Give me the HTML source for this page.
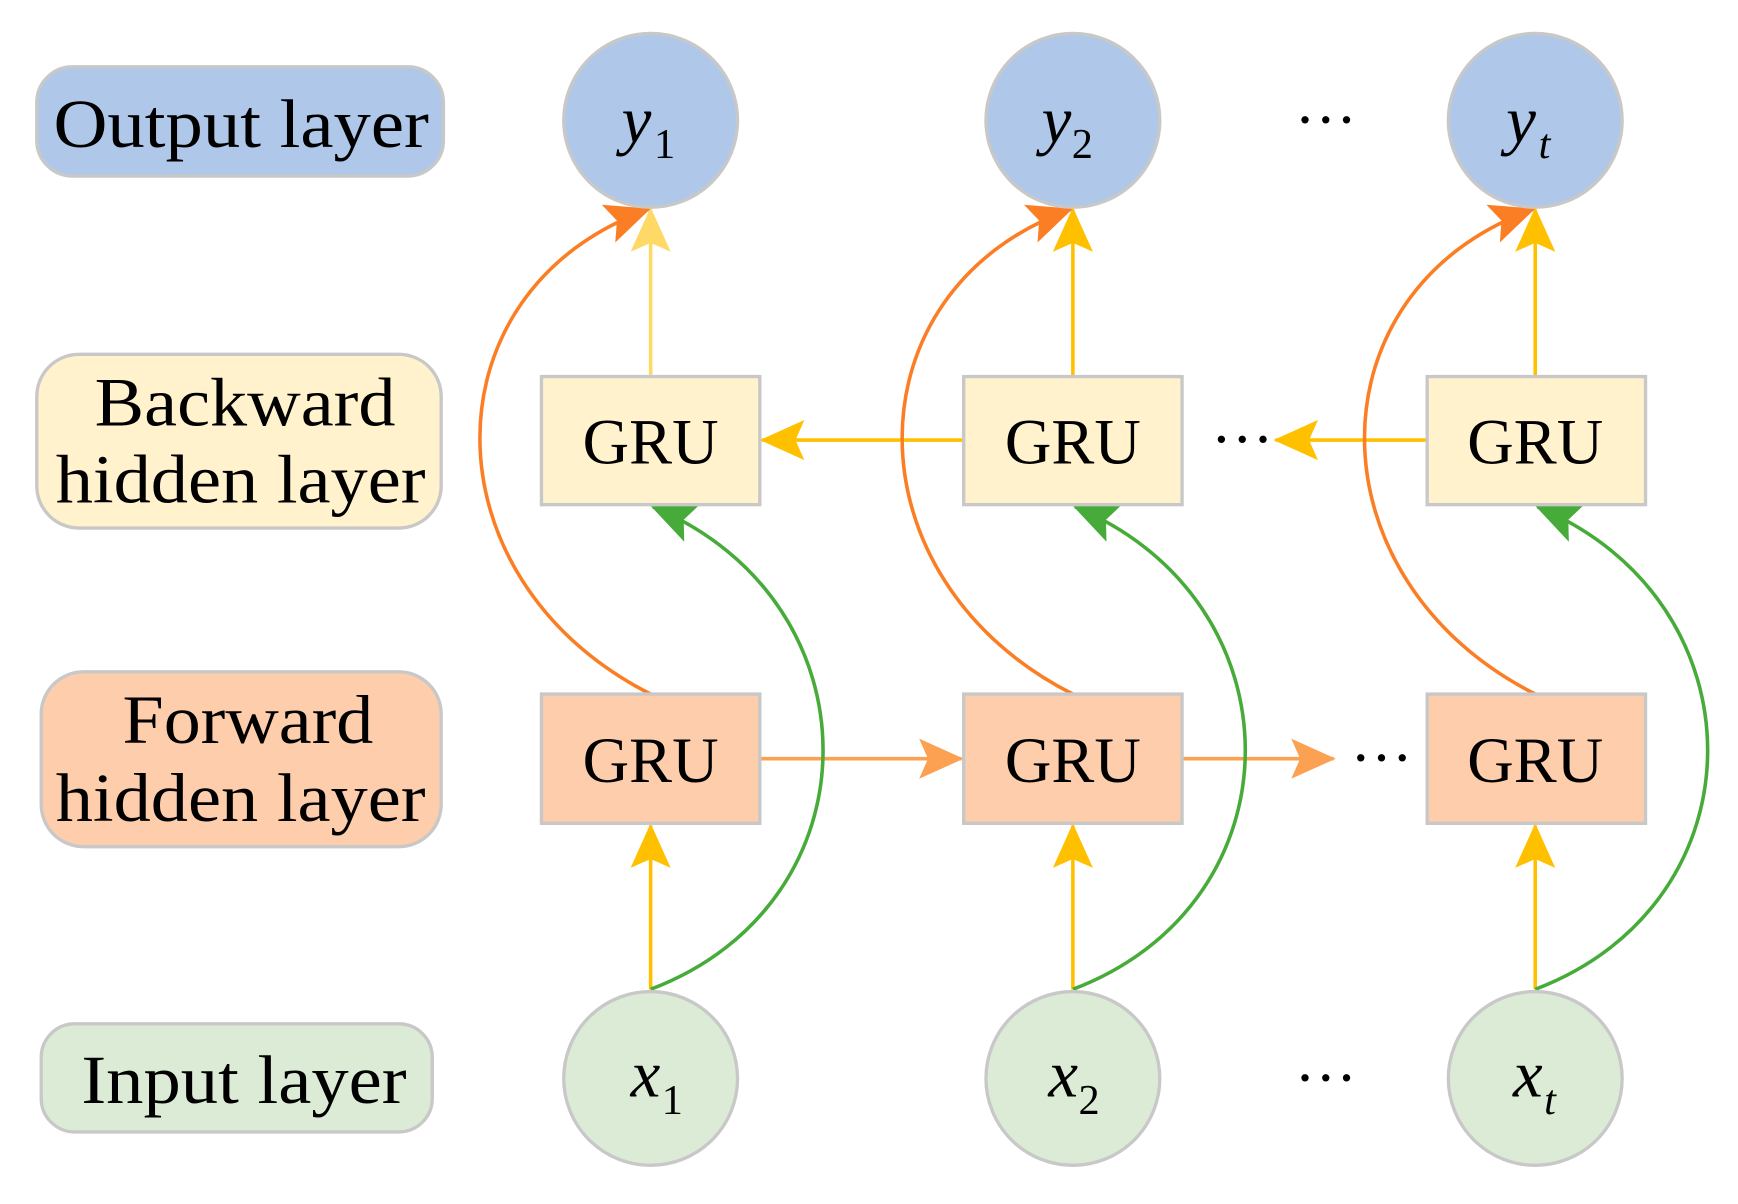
<!DOCTYPE html>
<html><head><meta charset="utf-8"><style>html,body{margin:0;padding:0;background:#fff}svg{display:block}</style></head>
<body>
<svg width="1738" height="1204" viewBox="0 0 1560 1080.7" preserveAspectRatio="none" xmlns="http://www.w3.org/2000/svg" font-family="Liberation Serif, serif">
<defs>
<marker id="ay" viewBox="0 0 40 40" refX="38" refY="20" markerWidth="40" markerHeight="40" markerUnits="userSpaceOnUse" orient="auto"><path d="M0,2 L40,20 L0,38 L8,20 Z" fill="#ffc000"/></marker>
<marker id="ay2" viewBox="0 0 40 40" refX="38" refY="20" markerWidth="40" markerHeight="40" markerUnits="userSpaceOnUse" orient="auto"><path d="M0,2 L40,20 L0,38 L8,20 Z" fill="#ffd966"/></marker>
<marker id="ao" viewBox="0 0 40 40" refX="38" refY="20" markerWidth="40" markerHeight="40" markerUnits="userSpaceOnUse" orient="auto"><path d="M0,2 L40,20 L0,38 L8,20 Z" fill="#fb7e25"/></marker>
<marker id="af" viewBox="0 0 40 40" refX="38" refY="20" markerWidth="40" markerHeight="40" markerUnits="userSpaceOnUse" orient="auto"><path d="M0,2 L40,20 L0,38 L8,20 Z" fill="#fca052"/></marker>
<marker id="ag" viewBox="0 0 40 40" refX="38" refY="20" markerWidth="40" markerHeight="40" markerUnits="userSpaceOnUse" orient="auto"><path d="M0,2 L40,20 L0,38 L8,20 Z" fill="#47ab3a"/></marker>
</defs>
<g stroke="#c8c8c8" stroke-width="3">
<rect x="33" y="60" width="365" height="98" rx="32" fill="#afc7e8"/>
<rect x="33" y="318" width="363" height="156" rx="38" fill="#fff2cc"/>
<rect x="37" y="603" width="359" height="157" rx="38" fill="#fdcdac"/>
<rect x="37" y="919" width="351" height="97" rx="30" fill="#dcebd6"/>
</g>
<g font-size="62" fill="#000" lengthAdjust="spacingAndGlyphs">
<text x="48" y="132" textLength="337" lengthAdjust="spacingAndGlyphs">Output layer</text>
<text x="85" y="382" textLength="270" lengthAdjust="spacingAndGlyphs">Backward</text>
<text x="50" y="451" textLength="332" lengthAdjust="spacingAndGlyphs">hidden layer</text>
<text x="110" y="667" textLength="225" lengthAdjust="spacingAndGlyphs">Forward</text>
<text x="50" y="737" textLength="332" lengthAdjust="spacingAndGlyphs">hidden layer</text>
<text x="73" y="990" textLength="292" lengthAdjust="spacingAndGlyphs">Input layer</text>
</g>
<g fill="none" stroke-width="3.2">
<g stroke="#ffc000">
<line x1="584" y1="888" x2="584" y2="741" marker-end="url(#ay)"/>
<line x1="963" y1="888" x2="963" y2="741" marker-end="url(#ay)"/>
<line x1="1378" y1="888" x2="1378" y2="741" marker-end="url(#ay)"/>
<line x1="963" y1="338" x2="963" y2="188" marker-end="url(#ay)"/>
<line x1="1378" y1="338" x2="1378" y2="188" marker-end="url(#ay)"/>
<line x1="865" y1="395" x2="684" y2="395" marker-end="url(#ay)"/>
<line x1="1281" y1="395" x2="1145" y2="395" marker-end="url(#ay)"/>
</g>
<line x1="584" y1="338" x2="584" y2="188" stroke="#ffd966" marker-end="url(#ay2)"/>
<g stroke="#fca052">
<line x1="682" y1="681" x2="863" y2="681" marker-end="url(#af)"/>
<line x1="1061" y1="681" x2="1197" y2="681" marker-end="url(#af)"/>
</g>
<g stroke="#fb7e25">
<path d="M584,623 C380,520 380,260 582,188" marker-end="url(#ao)"/>
<path d="M963,623 C759,520 759,260 961,188" marker-end="url(#ao)"/>
<path d="M1378,623 C1174,520 1174,260 1376,188" marker-end="url(#ao)"/>
</g>
<g stroke="#47ab3a">
<path d="M584,888 C790,810 790,540 586,455" marker-end="url(#ag)"/>
<path d="M963,888 C1169,810 1169,540 965,455" marker-end="url(#ag)"/>
<path d="M1378,888 C1584,810 1584,540 1380,455" marker-end="url(#ag)"/>
</g>
</g>
<g stroke="#c8c8c8" stroke-width="3">
<circle cx="584" cy="108" r="78" fill="#afc7e8"/>
<circle cx="963" cy="108" r="78" fill="#afc7e8"/>
<circle cx="1378" cy="108" r="78" fill="#afc7e8"/>
<circle cx="584" cy="968" r="78" fill="#dcebd6"/>
<circle cx="963" cy="968" r="78" fill="#dcebd6"/>
<circle cx="1378" cy="968" r="78" fill="#dcebd6"/>
<rect x="486" y="338" width="196" height="115" fill="#fff2cc"/>
<rect x="865" y="338" width="196" height="115" fill="#fff2cc"/>
<rect x="1281" y="338" width="196" height="115" fill="#fff2cc"/>
<rect x="486" y="623" width="196" height="116" fill="#fdcdac"/>
<rect x="865" y="623" width="196" height="116" fill="#fdcdac"/>
<rect x="1281" y="623" width="196" height="116" fill="#fdcdac"/>
</g>
<g font-size="58" text-anchor="middle" fill="#000">
<text x="584" y="416" textLength="122" lengthAdjust="spacingAndGlyphs">GRU</text><text x="963" y="416" textLength="122" lengthAdjust="spacingAndGlyphs">GRU</text><text x="1378" y="416" textLength="122" lengthAdjust="spacingAndGlyphs">GRU</text>
<text x="584" y="702" textLength="122" lengthAdjust="spacingAndGlyphs">GRU</text><text x="963" y="702" textLength="122" lengthAdjust="spacingAndGlyphs">GRU</text><text x="1378" y="702" textLength="122" lengthAdjust="spacingAndGlyphs">GRU</text>
</g>
<g font-size="56" text-anchor="middle" fill="#000">
<text x="1190" y="126">···</text><text x="1115" y="413">···</text><text x="1240" y="699">···</text><text x="1190" y="986">···</text>
</g>
<g font-size="60" font-style="italic" fill="#000">
<text x="558" y="128">y</text><text x="587" y="142" font-size="38" font-style="normal">1</text>
<text x="935" y="128">y</text><text x="962" y="142" font-size="38" font-style="normal">2</text>
<text x="1352" y="128">y</text><text x="1381" y="142" font-size="38">t</text>
<text x="566" y="984">x</text><text x="594" y="1000" font-size="38" font-style="normal">1</text>
<text x="941" y="984">x</text><text x="968" y="1000" font-size="38" font-style="normal">2</text>
<text x="1358" y="984">x</text><text x="1386" y="1000" font-size="38">t</text>
</g>
</svg>
</body></html>
